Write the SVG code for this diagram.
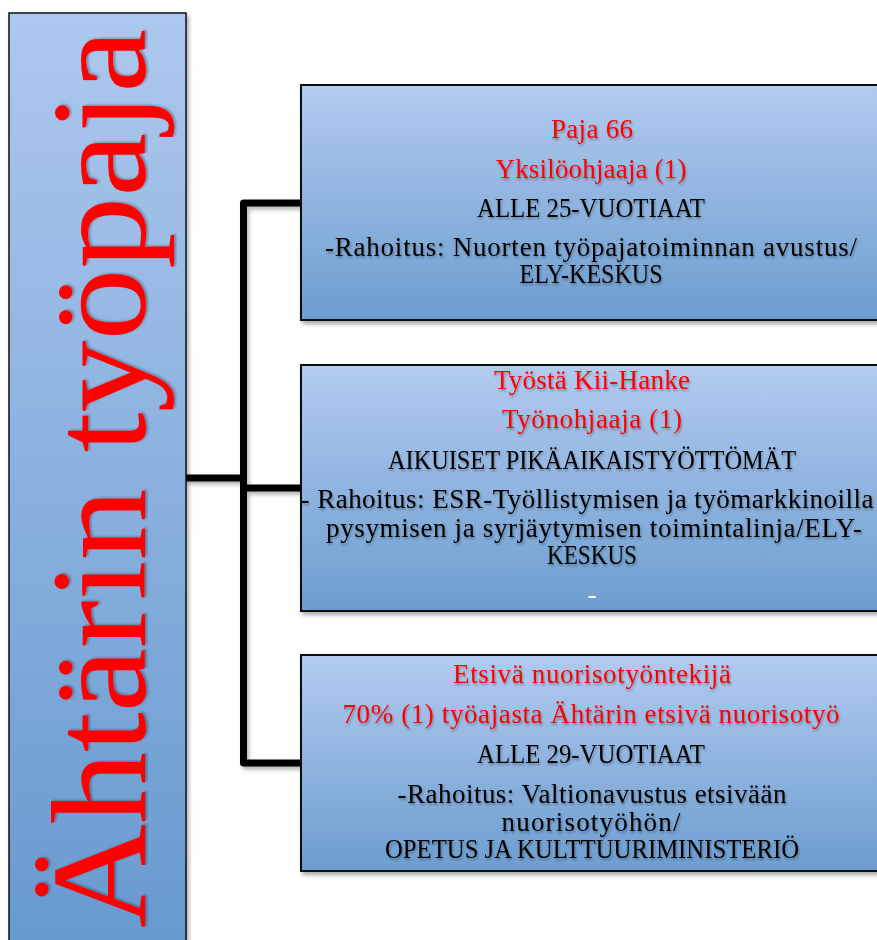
<svg xmlns="http://www.w3.org/2000/svg" width="877" height="940" viewBox="0 0 877 940">
<defs>
<linearGradient id="gBox" x1="0" y1="0" x2="0" y2="1">
<stop offset="0" stop-color="#b2cbef"/>
<stop offset="1" stop-color="#6c9dcf"/>
</linearGradient>
<linearGradient id="gLeft" x1="0" y1="0" x2="0" y2="1">
<stop offset="0" stop-color="#adc8ee"/>
<stop offset="1" stop-color="#6799cf"/>
</linearGradient>
<filter id="shadow" x="-10%" y="-10%" width="125%" height="125%">
<feDropShadow dx="2" dy="3" stdDeviation="2" flood-color="#000" flood-opacity="0.35"/>
</filter>
<filter id="cshadow" filterUnits="userSpaceOnUse" x="0" y="0" width="877" height="940">
<feDropShadow dx="2" dy="3" stdDeviation="2" flood-color="#000" flood-opacity="0.3"/>
</filter>
<filter id="tshadow" x="-5%" y="-20%" width="110%" height="160%">
<feDropShadow dx="1" dy="2" stdDeviation="1.2" flood-color="#000" flood-opacity="0.3"/>
</filter>
</defs>
<style>
.box{stroke:#111;stroke-width:2;filter:url(#shadow)}
.t{font-family:"Liberation Serif","Times New Roman",serif;font-size:27px;text-anchor:middle}
.red{fill:#ff0000}
.blk{fill:#000}
.conn{fill:none;stroke:#000;stroke-width:7;stroke-linejoin:round}
</style>
<rect width="877" height="940" fill="#fff"/>

<g id="connectors" filter="url(#cshadow)">
<path class="conn" d="M301,203 H243.5 V763 H301"/>
<path class="conn" d="M186,478 H243.5"/>
<path class="conn" d="M243.5,488 H301"/>
</g>

<g id="root">
<rect class="box" x="9" y="13" width="177" height="940" fill="url(#gLeft)" style="stroke-width:1.5"/>
<text transform="translate(145,928) rotate(-90)" font-family="Liberation Serif, Times New Roman, serif" font-size="136" fill="#ff0000" textLength="899" lengthAdjust="spacingAndGlyphs" filter="url(#tshadow)">Ähtärin työpaja</text>
</g>

<g id="box1">
<rect class="box" x="301" y="85" width="590" height="235" fill="url(#gBox)"/>
<g filter="url(#tshadow)">
<text class="t red" x="592" y="138" textLength="82">Paja 66</text>
<text class="t red" x="591" y="178" textLength="191">Yksilöohjaaja (1)</text>
<text class="t blk" x="591" y="217" textLength="228" lengthAdjust="spacingAndGlyphs">ALLE 25-VUOTIAAT</text>
<text class="t blk" x="591" y="256" textLength="532">-Rahoitus: Nuorten työpajatoiminnan avustus/</text>
<text class="t blk" x="591" y="283" textLength="143" lengthAdjust="spacingAndGlyphs">ELY-KESKUS</text>
</g>
</g>

<g id="box2">
<rect class="box" x="301" y="365" width="590" height="246" fill="url(#gBox)"/>
<g filter="url(#tshadow)">
<text class="t red" x="592" y="389" textLength="196">Työstä Kii-Hanke</text>
<text class="t red" x="592" y="428" textLength="180">Työnohjaaja (1)</text>
<text class="t blk" x="592" y="469" textLength="408" lengthAdjust="spacingAndGlyphs">AIKUISET PIKÄAIKAISTYÖTTÖMÄT</text>
<text class="t blk" x="587" y="508" textLength="573">- Rahoitus: ESR-Työllistymisen ja työmarkkinoilla</text>
<text class="t blk" x="594" y="537" textLength="536">pysymisen ja syrjäytymisen toimintalinja/ELY-</text>
<text class="t blk" x="592" y="564" textLength="90" lengthAdjust="spacingAndGlyphs">KESKUS</text>
</g>
<text class="t" x="592" y="603" fill="#fff">-</text>
</g>

<g id="box3">
<rect class="box" x="301" y="655" width="590" height="216" fill="url(#gBox)"/>
<g filter="url(#tshadow)">
<text class="t red" x="592" y="683" textLength="278">Etsivä nuorisotyöntekijä</text>
<text class="t red" x="591" y="723" textLength="497">70% (1) työajasta Ähtärin etsivä nuorisotyö</text>
<text class="t blk" x="591" y="763" textLength="228" lengthAdjust="spacingAndGlyphs">ALLE 29-VUOTIAAT</text>
<text class="t blk" x="592" y="803" textLength="389">-Rahoitus: Valtionavustus etsivään</text>
<text class="t blk" x="591" y="831" textLength="179">nuorisotyöhön/</text>
<text class="t blk" x="592" y="858" textLength="414" lengthAdjust="spacingAndGlyphs">OPETUS JA KULTTUURIMINISTERIÖ</text>
</g>
</g>
</svg>
